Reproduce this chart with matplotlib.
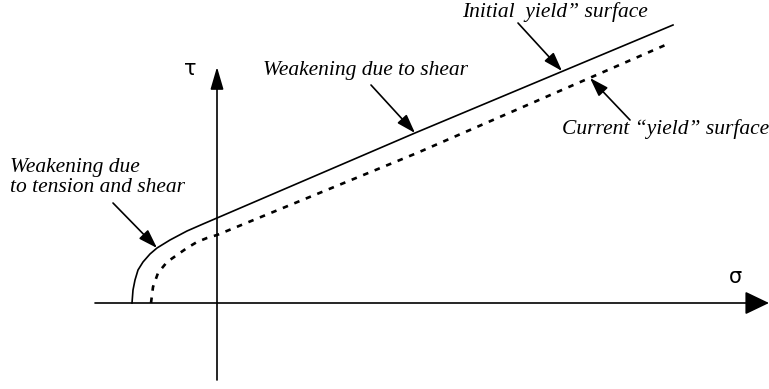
import matplotlib
matplotlib.use("Agg")
import matplotlib.pyplot as plt

# Yield surfaces in the (sigma, tau) plane, arbitrary stress units
initial_sigma = [-85, -84, -82, -79, -74, -67, -60, -47, -30, -14, 0, 198, 456]
initial_tau = [0, 13, 23, 33, 41, 49, 55, 63, 72, 79, 85, 170, 278]

current_sigma = [-66, -65, -64, -59, -50, -40, -30, -20, -10, 0, 200, 453]
current_tau = [0, 8, 16, 30, 41, 48, 55, 61, 65, 68, 150, 260]

# Extent of the drawn axes
sigma_axis = [-122, 552]
tau_axis = [-77, 236]

# Annotation texts
lbl_tension = "Weakening due\nto tension and shear"
lbl_shear = "Weakening due to shear"
lbl_initial = "Initial  yield\u201d surface"
lbl_current = "Current \u201cyield\u201d surface"

fig = plt.figure(figsize=(7.69, 3.89), dpi=100)
ax = fig.add_axes([0, 0, 1, 1])
ax.set_xlim(-217, 552)
ax.set_ylim(-86, 303)
ax.axis("off")

# Coordinate axes with arrow heads
ax.annotate("", xy=(sigma_axis[1], 0), xytext=(sigma_axis[0], 0),
            arrowprops=dict(arrowstyle="-|>,head_length=15,head_width=7.2",
                            mutation_scale=1, lw=1.2, color="black",
                            shrinkA=0, shrinkB=0))
ax.annotate("", xy=(0, tau_axis[1]), xytext=(0, tau_axis[0]),
            arrowprops=dict(arrowstyle="-|>,head_length=13.7,head_width=4",
                            mutation_scale=1, lw=1.2, color="black",
                            shrinkA=0, shrinkB=0))

ax.text(-27, 234, "\u03c4", fontsize=15, family="DejaVu Sans",
        ha="center", va="center")
ax.text(518, 26, "\u03c3", fontsize=15, family="DejaVu Sans",
        ha="center", va="center")

# Yield surfaces
ax.plot(initial_sigma, initial_tau, color="black", lw=1.2,
        solid_joinstyle="round")
ax.plot(current_sigma, current_tau, color="black", lw=1.9,
        linestyle=(0, (2.1, 2.6)), dash_capstyle="butt")

txt = dict(fontsize=15.5, family="Liberation Serif", style="italic")
arr = dict(arrowstyle="-|>,head_length=11.5,head_width=3.8",
           mutation_scale=1, lw=1.2, color="black", shrinkA=0, shrinkB=0)

ax.annotate("", xy=(initial_sigma[6], initial_tau[6]),
            xytext=(-104, 100), arrowprops=arr)
ax.text(-207, 125.5, lbl_tension, ha="left", va="center",
        linespacing=1.1, **txt)

ax.annotate("", xy=(initial_sigma[11], initial_tau[11]),
            xytext=(154, 218), arrowprops=arr)
ax.text(46, 233, lbl_shear, ha="left", va="center", **txt)

ax.annotate("", xy=(345, 232), xytext=(301, 280), arrowprops=arr)
ax.text(245, 291, lbl_initial, ha="left", va="center", **txt)

ax.annotate("", xy=(373, 225), xytext=(413, 183), arrowprops=arr)
ax.text(345, 174, lbl_current, ha="left", va="center", **txt)

fig.savefig("out.png", dpi=100, facecolor="white")
